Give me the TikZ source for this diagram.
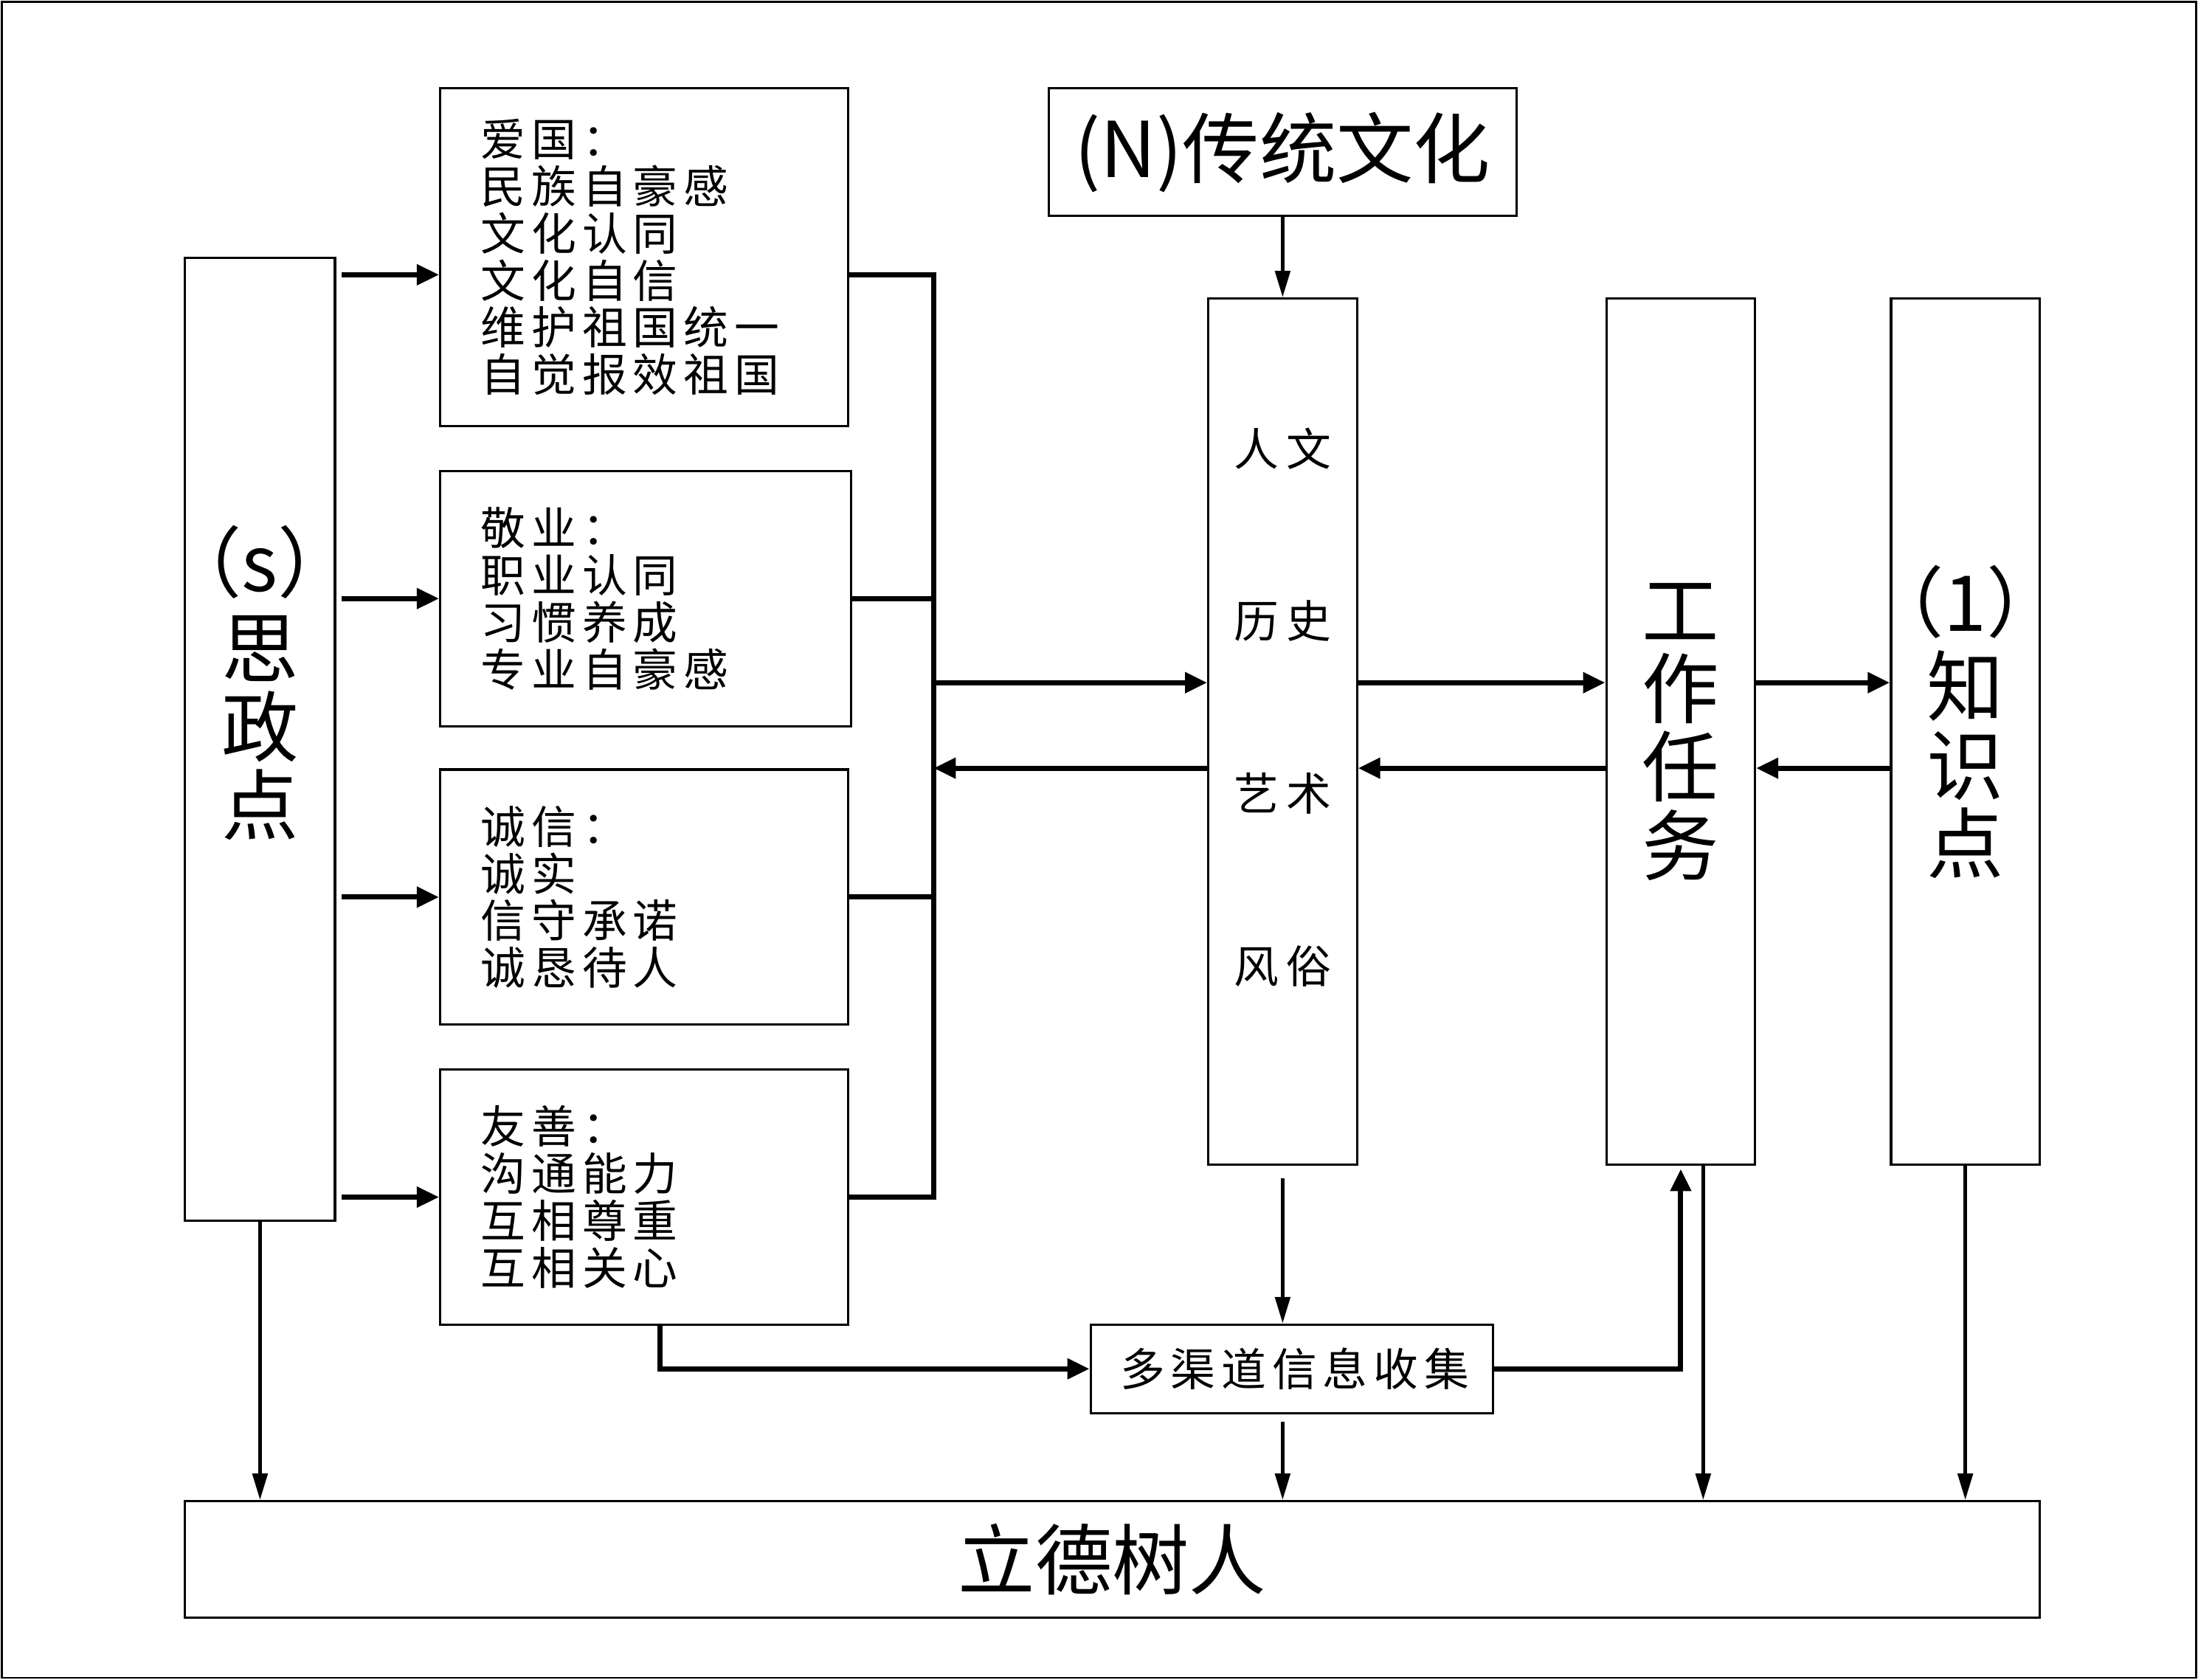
\documentclass[tikz,border=0pt]{standalone}
\usepackage{fontspec}
\setmainfont{Noto Sans CJK SC}
\newfontfamily\spcfont[LetterSpace=13]{Noto Sans CJK SC}
\usetikzlibrary{arrows.meta}
\def\uu{0.019cm}
\newcommand\fsmall{\spcfont\fontsize{17.3pt}{18.16pt}\selectfont}
\newcommand\fbig{\fontsize{29.7pt}{30.27pt}\selectfont}
\newcommand\fmid{\fontsize{17.3pt}{66.5pt}\selectfont}
\begin{document}
\begin{tikzpicture}[x=0.019cm, y=-0.019cm,
  box/.style={draw, line width=0.9pt, inner sep=0pt},
  tbox/.style={box, align=left, font=\fsmall, inner xsep=29*\uu},
  harrow/.style={line width=2pt, -{Triangle[length=0.3cm,width=0.27cm]}},
  varrow/.style={line width=1.5pt, -{Triangle[length=0.36cm,width=0.2cm]}},
  busline/.style={line width=2pt}]
\useasboundingbox (0,0) rectangle (1568,1198.4);
\draw[line width=0.8pt] (1.5,1.5) rectangle (1566.5,1196.9);

% boxes
\node[box, minimum width=107*\uu, minimum height=687*\uu] (sz) at (185.5,527.5) {};
\node[font=\fbig, align=center, inner sep=0pt] (szt) at (185.5,487) {（s）\\[0.1cm]思\\政\\点};

\node[tbox, minimum width=291*\uu, minimum height=241*\uu, text width=233*\uu] (ag) at (459.5,183.5)
  {爱国：\\民族自豪感\\文化认同\\文化自信\\维护祖国统一\\自觉报效祖国};
\node[tbox, minimum width=293*\uu, minimum height=182*\uu, text width=235*\uu] (jy) at (460.5,427)
  {敬业：\\职业认同\\习惯养成\\专业自豪感};
\node[tbox, minimum width=291*\uu, minimum height=182*\uu, text width=233*\uu] (cx) at (459.5,640)
  {诚信：\\诚实\\信守承诺\\诚恳待人};
\node[tbox, minimum width=291*\uu, minimum height=182*\uu, text width=233*\uu] (ys) at (459.5,854)
  {友善：\\沟通能力\\互相尊重\\互相关心};

\node[box, font=\fbig, minimum width=334*\uu, minimum height=91*\uu] (ct) at (915,108.5) {(N)传统文化};

\node[box, minimum width=106*\uu, minimum height=618*\uu] (rw) at (915,522) {};
\node[font=\fmid, align=center, inner sep=0pt] (rwt) at (915,504.5)
  {人\hspace{0.1cm}文\\历\hspace{0.1cm}史\\艺\hspace{0.1cm}术\\风\hspace{0.1cm}俗};

\node[box, font=\fbig, align=center, minimum width=106*\uu, minimum height=618*\uu] (gz) at (1199,522)
  {工\\作\\任\\务};

\node[box, minimum width=106*\uu, minimum height=618*\uu] (zs) at (1402,522) {};
\node[font=\fbig, align=center, inner sep=0pt] (zst) at (1402,515) {（1）\\[0.08cm]知\\识\\点};

\node[box, font=\fsmall, minimum width=287*\uu, minimum height=63*\uu] (dq) at (921.5,976.5) {\hspace{0.08cm}多渠道信息收集};

\node[box, font=\fbig, minimum width=1323*\uu, minimum height=83*\uu] (ld) at (793.5,1112.5) {立德树人};

% helper coordinates
\coordinate (bt) at (666,196);
\coordinate (bb) at (666,854);
\coordinate (ya) at (0,487);
\coordinate (yb) at (0,548);

% connectors
\draw[harrow, shorten <=0.076cm] (sz.east |- bt) -- (ag.west |- bt);
\draw[harrow, shorten <=0.076cm] (sz.east |- jy.west) -- (jy.west);
\draw[harrow, shorten <=0.076cm] (sz.east |- cx.west) -- (cx.west);
\draw[harrow, shorten <=0.076cm] (sz.east |- ys.west) -- (ys.west);

\draw[busline] (ag.east |- bt) -- (bt) -- (bb) -- (ys.east);
\draw[busline] (jy.east) -- (bt |- jy.east);
\draw[busline] (cx.east) -- (bt |- cx.east);

\draw[harrow] (bt |- ya) -- (rw.west |- ya);
\draw[harrow] (rw.west |- yb) -- (bt |- yb);
\draw[harrow] (rw.east |- ya) -- (gz.west |- ya);
\draw[harrow] (gz.west |- yb) -- (rw.east |- yb);
\draw[harrow] (gz.east |- ya) -- (zs.west |- ya);
\draw[harrow] (zs.west |- yb) -- (gz.east |- yb);

\draw[varrow] (ct.south) -- (rw.north);
\draw[varrow, shorten <=0.17cm] (rw.south) -- (rw.south |- dq.north);
\draw[harrow] (ys.south -| 471,0) |- (dq.west);
\draw[harrow, shorten >=0.04cm] (dq.east) -| (gz.south);
\draw[varrow] (gz.south -| 1215,0) -- (ld.north -| 1215,0);
\draw[varrow] (zs.south) -- (zs.south |- ld.north);
\draw[varrow] (sz.south) -- (sz.south |- ld.north);
\draw[varrow, shorten <=0.1cm] (dq.south -| rw.south) -- (rw.south |- ld.north);
\end{tikzpicture}
\end{document}
